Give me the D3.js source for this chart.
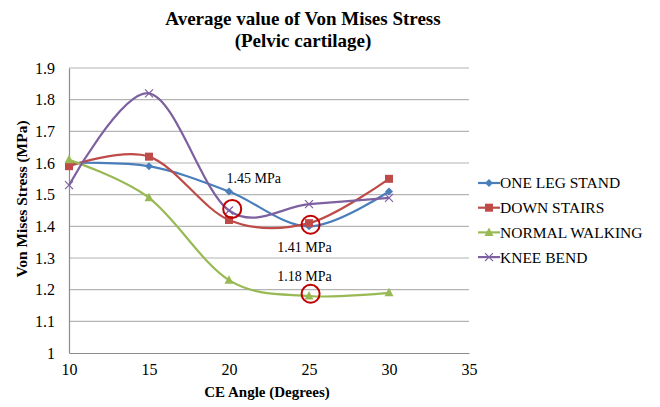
<!DOCTYPE html>
<html>
<head>
<meta charset="utf-8">
<script src="https://cdn.jsdelivr.net/npm/d3@7"></script>
<style>
  body { margin: 0; background: #fff; }
  svg text { font-family: "Liberation Serif", "Times New Roman", serif !important; fill: #000; }
</style>
</head>
<body>
<div id="chart"></div>
<script>
var svgWidth = 660;
var svgHeight = 407;

var margin = { top: 68, right: 191, bottom: 54, left: 69 };
var width = svgWidth - margin.left - margin.right;
var height = svgHeight - margin.top - margin.bottom;

// data
var angles = [10, 15, 20, 25, 30];
var oneLegStand = [1.60, 1.59, 1.51, 1.40, 1.51];
var downStairs = [1.59, 1.62, 1.42, 1.41, 1.55];
var normalWalking = [1.61, 1.49, 1.23, 1.18, 1.19];
var kneeBend = [1.53, 1.82, 1.45, 1.47, 1.49];
var seriesNames = ["ONE LEG STAND", "DOWN STAIRS", "NORMAL WALKING", "KNEE BEND"];
var seriesColors = ["#4a7ebb", "#be4b48", "#98b954", "#7d60a0"];
var seriesMarkers = ["diamond", "square", "triangle", "cross"];
var xTicks = [10, 15, 20, 25, 30, 35];
var yTicks = [1, 1.1, 1.2, 1.3, 1.4, 1.5, 1.6, 1.7, 1.8, 1.9];

// highlighted points and notes
var noteLabels = ["1.45 MPa", "1.41 MPa", "1.18 MPa"];
var noteCircleX = [20.2, 25.1, 25.1];
var noteCircleY = [1.455, 1.405, 1.187];
var noteTextX = [21.55, 24.72, 24.72];
var noteTextY = [1.553, 1.333, 1.243];

var allSeries = [oneLegStand, downStairs, normalWalking, kneeBend];

var svg = d3.select("#chart")
  .append("svg")
  .attr("width", svgWidth)
  .attr("height", svgHeight)
  .attr("font-family", "Liberation Serif, serif");

var chartGroup = svg.append("g")
  .attr("transform", `translate(${margin.left}, ${margin.top})`);

var xScale = d3.scaleLinear().domain([10, 35]).range([0, width]);
var yScale = d3.scaleLinear().domain([1, 1.9]).range([height, 0]);

// gridlines
chartGroup.selectAll(".grid")
  .data(yTicks.slice(1))
  .enter()
  .append("line")
  .attr("x1", 0)
  .attr("x2", width)
  .attr("y1", d => yScale(d))
  .attr("y2", d => yScale(d))
  .attr("stroke", "#b4b4b4")
  .attr("stroke-width", 1.2);

// axes
var bottomAxis = d3.axisBottom(xScale).tickValues(xTicks).tickSize(0).tickPadding(11);
var leftAxis = d3.axisLeft(yScale).tickValues(yTicks).tickSize(0).tickPadding(14)
  .tickFormat(d => d === 1 ? "1" : d3.format(".1f")(d));

var xAxis = chartGroup.append("g")
  .attr("transform", `translate(0, ${height})`)
  .call(bottomAxis);
var yAxis = chartGroup.append("g").call(leftAxis);

[xAxis, yAxis].forEach(function(ax) {
  ax.attr("font-family", "Liberation Serif, serif").attr("font-size", 16);
  ax.select(".domain").attr("stroke", "#8c8c8c").attr("stroke-width", 1.2);
  ax.selectAll("text").attr("fill", "#000");
});

// lines
var line = d3.line()
  .x((d, i) => xScale(angles[i]))
  .y(d => yScale(d))
  .curve(d3.curveCardinal.tension(0));

function drawMarker(g, type, color, x, y) {
  if (type === "diamond") {
    g.append("path").attr("d", `M${x},${y-4}L${x+4},${y}L${x},${y+4}L${x-4},${y}Z`).attr("fill", color);
  } else if (type === "square") {
    g.append("rect").attr("x", x - 4).attr("y", y - 4).attr("width", 8).attr("height", 8).attr("fill", color);
  } else if (type === "triangle") {
    g.append("path").attr("d", `M${x},${y-5}L${x+4.5},${y+3.5}L${x-4.5},${y+3.5}Z`).attr("fill", color);
  } else {
    g.append("path").attr("d", `M${x-4},${y-4}L${x+4},${y+4}M${x-4},${y+4}L${x+4},${y-4}`)
      .attr("stroke", color).attr("stroke-width", 1.2).attr("fill", "none");
  }
}

allSeries.forEach(function(values, k) {
  chartGroup.append("path")
    .datum(values)
    .attr("d", line)
    .attr("fill", "none")
    .attr("stroke", seriesColors[k])
    .attr("stroke-width", 2.2);
});
allSeries.forEach(function(values, k) {
  var mg = chartGroup.append("g");
  values.forEach(function(v, i) {
    drawMarker(mg, seriesMarkers[k], seriesColors[k], xScale(angles[i]), yScale(v));
  });
});

// notes
noteLabels.forEach(function(label, i) {
  chartGroup.append("circle")
    .attr("cx", xScale(noteCircleX[i]))
    .attr("cy", yScale(noteCircleY[i]))
    .attr("r", 9)
    .attr("fill", "none")
    .attr("stroke", "#c00000")
    .attr("stroke-width", 2);
  chartGroup.append("text")
    .attr("x", xScale(noteTextX[i]))
    .attr("y", yScale(noteTextY[i]))
    .attr("text-anchor", "middle")
    .attr("dy", "0.35em")
    .attr("font-size", 14)
    .text(label);
});

// titles
svg.append("text")
  .attr("x", 303).attr("y", 25)
  .attr("text-anchor", "middle")
  .attr("font-size", 19).attr("font-weight", "bold")
  .text("Average value of Von Mises Stress");
svg.append("text")
  .attr("x", 303).attr("y", 47)
  .attr("text-anchor", "middle")
  .attr("font-size", 19).attr("font-weight", "bold")
  .text("(Pelvic cartilage)");

svg.append("text")
  .attr("x", 267).attr("y", 397)
  .attr("text-anchor", "middle")
  .attr("font-size", 15).attr("font-weight", "bold")
  .text("CE Angle (Degrees)");

svg.append("text")
  .attr("transform", "translate(27, 199) rotate(-90)")
  .attr("text-anchor", "middle")
  .attr("font-size", 15.5).attr("font-weight", "bold")
  .text("Von Mises Stress (MPa)");

// legend
var legend = svg.append("g").attr("transform", "translate(478, 183)");
seriesNames.forEach(function(name, k) {
  var row = legend.append("g").attr("transform", `translate(0, ${k * 24.7})`);
  row.append("line").attr("x1", 0).attr("x2", 22).attr("y1", 0).attr("y2", 0)
    .attr("stroke", seriesColors[k]).attr("stroke-width", 2.2);
  drawMarker(row, seriesMarkers[k], seriesColors[k], 11, 0);
  row.append("text").attr("x", 22).attr("y", 0).attr("dy", "0.35em")
    .attr("font-size", 15.5).text(name);
});
</script>
</body>
</html>
